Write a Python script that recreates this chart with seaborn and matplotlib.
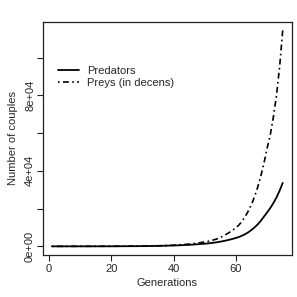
import matplotlib
matplotlib.use("Agg")
import matplotlib.pyplot as plt
import seaborn as sns
import pandas as pd

# generations and population sizes
generations = [1, 10, 20, 30, 35, 40, 45, 50, 52, 54, 56, 58, 60, 61, 62, 63, 64,
               65, 66, 67, 68, 69, 70, 71, 72, 73, 74, 75]
predators = [10, 20, 40, 120, 250, 450, 800, 1400, 1750, 2200, 2800, 3550, 4450,
             5000, 5700, 6500, 7500, 8700, 10100, 11700, 13600, 15800, 18000,
             20300, 22900, 25900, 29500, 33600]
preys = [10, 20, 50, 150, 300, 600, 1200, 2300, 3000, 4000, 5500, 7500, 9800,
         11400, 13400, 15900, 18800, 22300, 26500, 31500, 37400, 44200, 52000,
         59000, 68500, 80000, 95000, 114500]

y_ticks = [0, 20000, 40000, 60000, 80000, 100000]
y_labels = ["0e+00", "", "4e+04", "", "8e+04", ""]
x_ticks = [0, 20, 40, 60]

df = pd.DataFrame({"gen": generations, "pred": predators, "prey": preys})

sns.set_style("ticks")
plt.rcParams["font.family"] = ["Liberation Sans", "DejaVu Sans"]

fig = plt.figure(figsize=(2.97, 2.97), dpi=100)
ax = fig.add_axes([0.1437, 0.1414, 0.8393, 0.7856])

sns.lineplot(data=df, x="gen", y="pred", ax=ax, color="black", linewidth=1.3,
             label="Predators")
sns.lineplot(data=df, x="gen", y="prey", ax=ax, color="black", linewidth=1.2,
             linestyle=(0, (1, 2, 3.5, 2)), label="Preys (in decens)")

ax.set_xlim(-1.96, 77.96)
ax.set_ylim(-4580, 119080)
ax.set_xticks(x_ticks)
ax.set_yticks(y_ticks)
ax.set_yticklabels(y_labels, rotation=90, va="center")
ax.tick_params(labelsize=8, length=4.5, width=0.8, color="#222222")
ax.tick_params(axis="x", pad=2)
ax.tick_params(axis="y", pad=1)
ax.set_xlabel("Generations", fontsize=8, labelpad=3)
ax.set_ylabel("Number of couples", fontsize=8, labelpad=5)
for s in ax.spines.values():
    s.set_visible(True)
    s.set_linewidth(0.9)
    s.set_color("#222222")

ax.legend(loc="upper left", bbox_to_anchor=(0.194, 0.777),
          bbox_transform=fig.transFigure, frameon=False, fontsize=8,
          handlelength=1.9, handletextpad=0.75, labelspacing=0.15,
          borderpad=0, borderaxespad=0)

fig.savefig("out.png", dpi=100)
